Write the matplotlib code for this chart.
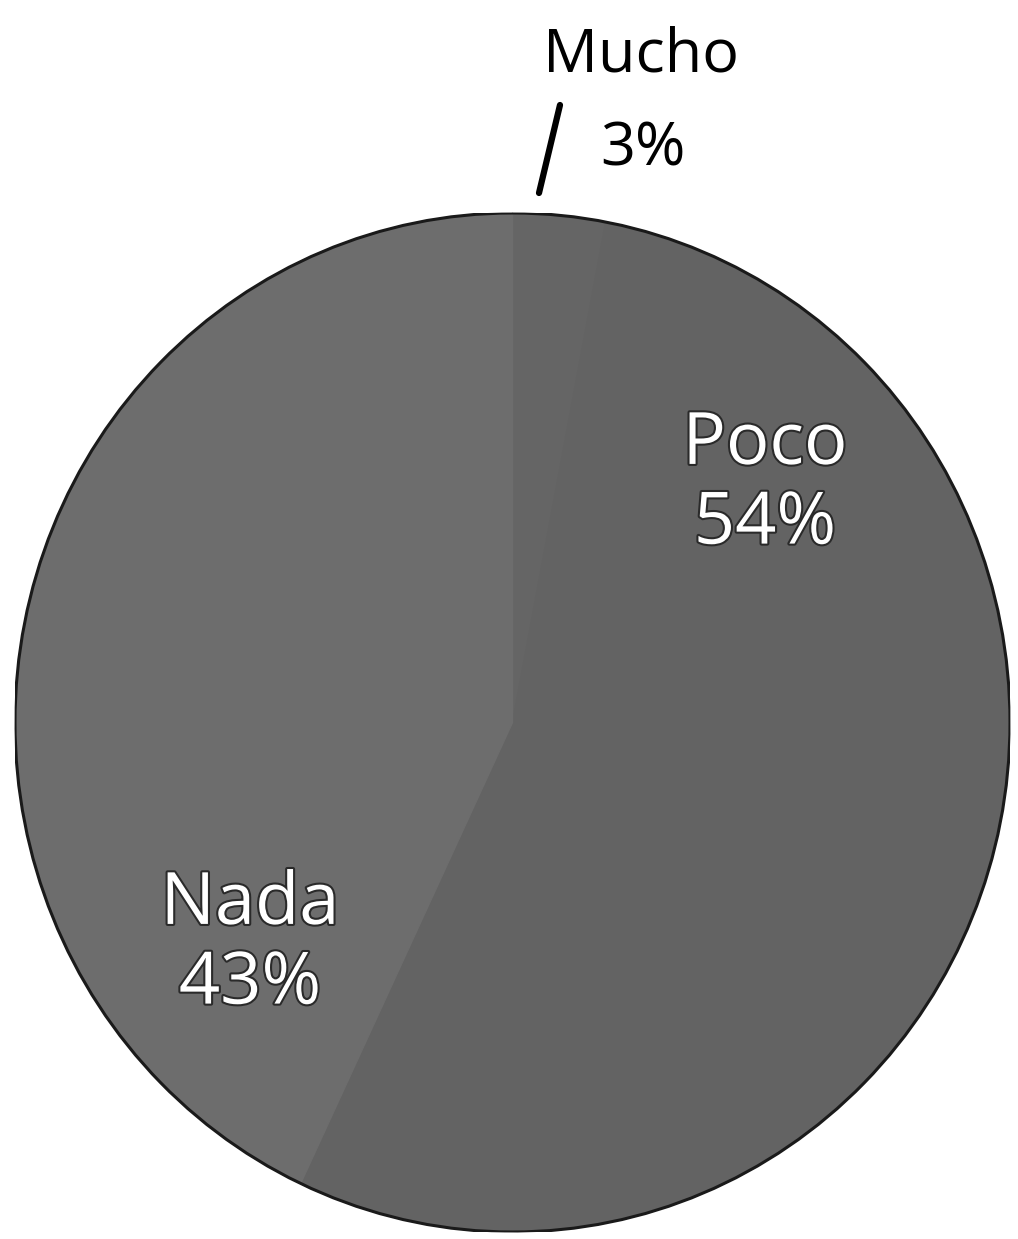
import matplotlib
matplotlib.use("Agg")
import matplotlib.pyplot as plt
import matplotlib.patheffects as pe
from matplotlib.patches import Ellipse

categories = ["Mucho", "Poco", "Nada"]
values = [3, 54, 43]
labels = ["3%", "54%", "43%"]
colors = ["#656565", "#636363", "#6d6d6d"]

W, H = 1018, 1239
fig = plt.figure(figsize=(W / 100, H / 100), dpi=100)
fig.patch.set_facecolor("white")
# pie spans x 15..1010, y 213..1232 (px)
ax = fig.add_axes([15 / W, (H - 1232) / H, 995 / W, 1019 / H])
wedges, _ = ax.pie(values, colors=colors, startangle=90, counterclock=False,
                   wedgeprops=dict(linewidth=1.0), radius=1.0)
for w in wedges:
    w.set_edgecolor(w.get_facecolor())
ax.set_aspect("auto")
ax.set_xlim(-1, 1)
ax.set_ylim(-1, 1)
ax.add_patch(Ellipse((0, 0), 2, 2, fill=False, edgecolor="#1a1a1a", linewidth=2.2, zorder=5))
ax.axis("off")

font = ["Open Sans", "DejaVu Sans"]
stroke = [pe.withStroke(linewidth=3, foreground="#2a2a2a")]

def px(x, y):
    return (x - 512.5) / 497.5, (722.5 - y) / 509.5

# inside labels
for name, pct, (x, y) in [("Poco", "54%", (765, 485)), ("Nada", "43%", (250, 945))]:
    tx, ty = px(x, y)
    ax.text(tx, ty, f"{name}\n{pct}", ha="center", va="center", color="white",
            fontsize=52, family=font, linespacing=1.15, path_effects=stroke, zorder=6)

# Mucho outside label with leader line
tx, ty = px(641, 55)
ax.text(tx, ty, categories[0], ha="center", va="center", color="black",
        fontsize=44, family=font, clip_on=False, zorder=6)
tx, ty = px(643, 150)
ax.text(tx, ty, labels[0], ha="center", va="center", color="black",
        fontsize=44, family=font, clip_on=False, zorder=6)
x1, y1 = px(539, 193)
x2, y2 = px(560, 105)
ax.plot([x1, x2], [y1, y2], color="black", linewidth=4.5, solid_capstyle="round",
        clip_on=False, zorder=6)

fig.savefig("out.png", dpi=100, facecolor="white")
